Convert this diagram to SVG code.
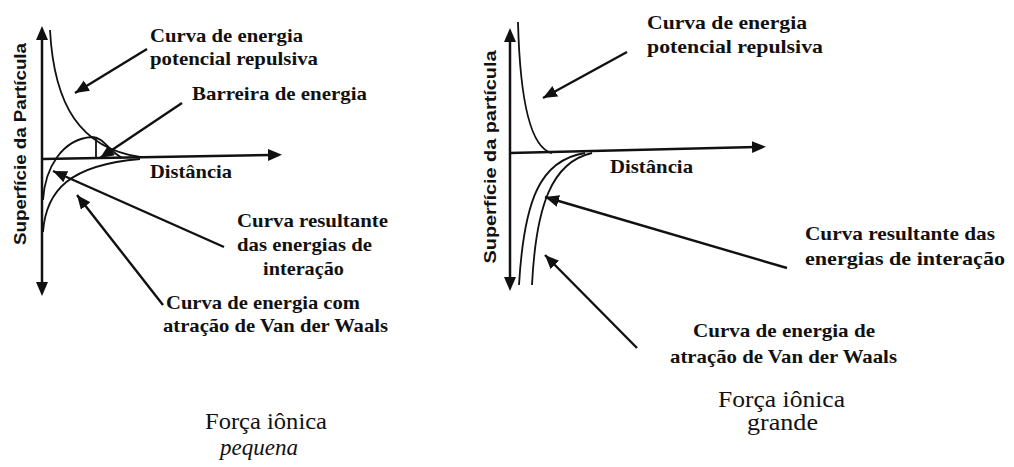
<svg xmlns="http://www.w3.org/2000/svg" width="1014" height="467" viewBox="0 0 1014 467">
<style>
.lbl{font-family:"Liberation Serif","Times New Roman",serif;font-weight:bold;font-size:19px;fill:#111}
.ax{font-family:"Liberation Sans",Arial,sans-serif;font-weight:bold;font-size:16px;fill:#111}
.cap{font-family:"Liberation Serif","Times New Roman",serif;font-size:23px;fill:#111}
.axis{stroke:#111;stroke-width:2.5;fill:none}
.curve{stroke:#111;stroke-width:1.8;fill:none}
.ptr{stroke:#111;stroke-width:2.4;fill:none}
</style>
<defs>
<marker id="ah" markerUnits="userSpaceOnUse" markerWidth="16" markerHeight="14" refX="14" refY="6" orient="auto">
<path d="M0,0 L14,6 L0,12 Z" fill="#111"/>
</marker>
<marker id="ahs" markerUnits="userSpaceOnUse" markerWidth="20" markerHeight="14" refX="4" refY="6" orient="auto-start-reverse">
<path d="M0,0 L14,6 L0,12 Z" fill="#111"/>
</marker>
</defs>
<rect width="1014" height="467" fill="#fff"/>

<g id="left-panel">
<g id="left-axes">
<line class="axis" x1="42" y1="36" x2="42" y2="286" marker-start="url(#ahs)" marker-end="url(#ahs)"/>
<line class="axis" x1="42" y1="159" x2="272" y2="155" marker-end="url(#ahs)"/>
<text class="ax" transform="translate(26,144) rotate(-90)" text-anchor="middle" textLength="202" lengthAdjust="spacingAndGlyphs">Superfície da Partícula</text>
<text class="lbl" x="150" y="178" textLength="82" lengthAdjust="spacingAndGlyphs">Distância</text>
</g>
<g id="left-curves">
<path class="curve" d="M50,30 C54,105 80,148 140,157"/>
<path class="curve" d="M43,200 C45,168 62,139 92,137 C103,137 108,150 122,158"/>
<line class="curve" x1="96" y1="137" x2="96" y2="159" stroke-width="1.2"/>
<path class="curve" d="M43,232 C46,190 70,165 140,159"/>
</g>
<g id="left-labels">
<text class="lbl" x="150" y="42" textLength="153" lengthAdjust="spacingAndGlyphs">Curva de energia</text>
<text class="lbl" x="150" y="65" textLength="168" lengthAdjust="spacingAndGlyphs">potencial repulsiva</text>
<text class="lbl" x="192" y="100" textLength="175" lengthAdjust="spacingAndGlyphs">Barreira de energia</text>
<text class="lbl" x="237" y="227" textLength="151" lengthAdjust="spacingAndGlyphs">Curva resultante</text>
<text class="lbl" x="237" y="251" textLength="135" lengthAdjust="spacingAndGlyphs">das energias de</text>
<text class="lbl" x="263" y="275" textLength="81" lengthAdjust="spacingAndGlyphs">interação</text>
<text class="lbl" x="166" y="309" textLength="194" lengthAdjust="spacingAndGlyphs">Curva de energia com</text>
<text class="lbl" x="163" y="332" textLength="225" lengthAdjust="spacingAndGlyphs">atração de Van der Waals</text>
<text class="cap" x="205" y="429" textLength="122" lengthAdjust="spacingAndGlyphs">Força iônica</text>
<text class="cap" x="220" y="455" font-style="italic" textLength="78" lengthAdjust="spacingAndGlyphs">pequena</text>
</g>
</g>

<g id="right-panel">
<g id="right-axes">
<line class="axis" x1="510" y1="38" x2="510" y2="281" marker-start="url(#ahs)" marker-end="url(#ahs)"/>
<line class="axis" x1="510" y1="153" x2="756" y2="147" marker-end="url(#ahs)"/>
<text class="ax" transform="translate(496,157) rotate(-90)" text-anchor="middle" textLength="213" lengthAdjust="spacingAndGlyphs">Superfície da partícula</text>
<text class="lbl" x="610" y="173" textLength="83" lengthAdjust="spacingAndGlyphs">Distância</text>
</g>
<g id="right-curves">
<path class="curve" d="M518,22 C520,100 530,148 552,153"/>
<path class="curve" d="M519,285 C524,200 540,160 585,153"/>
<path class="curve" d="M532,285 C536,205 552,162 592,153"/>
</g>
<g id="right-labels">
<text class="lbl" x="647" y="29" textLength="160" lengthAdjust="spacingAndGlyphs">Curva de energia</text>
<text class="lbl" x="647" y="53" textLength="176" lengthAdjust="spacingAndGlyphs">potencial repulsiva</text>
<text class="lbl" x="805" y="240" textLength="190" lengthAdjust="spacingAndGlyphs">Curva resultante das</text>
<text class="lbl" x="805" y="265" textLength="200" lengthAdjust="spacingAndGlyphs">energias de interação</text>
<text class="lbl" x="693" y="337" textLength="182" lengthAdjust="spacingAndGlyphs">Curva de energia de</text>
<text class="lbl" x="670" y="363" textLength="227" lengthAdjust="spacingAndGlyphs">atração de Van der Waals</text>
<text class="cap" x="718" y="407" textLength="127" lengthAdjust="spacingAndGlyphs">Força iônica</text>
<text class="cap" x="747" y="430" textLength="71" lengthAdjust="spacingAndGlyphs">grande</text>
</g>
</g>

<g id="connectors">
<line class="ptr" x1="147" y1="49" x2="75" y2="93" marker-end="url(#ah)"/>
<line class="ptr" x1="182" y1="103" x2="100" y2="158" marker-end="url(#ah)"/>
<line class="ptr" x1="224" y1="247" x2="53" y2="171" marker-end="url(#ah)"/>
<line class="ptr" x1="163" y1="305" x2="77" y2="195" marker-end="url(#ah)"/>
<line class="ptr" x1="627" y1="52" x2="543" y2="98" marker-end="url(#ah)"/>
<line class="ptr" x1="787" y1="268" x2="545" y2="197" marker-end="url(#ah)"/>
<line class="ptr" x1="637" y1="348" x2="545" y2="255" marker-end="url(#ah)"/>
</g>
</svg>
